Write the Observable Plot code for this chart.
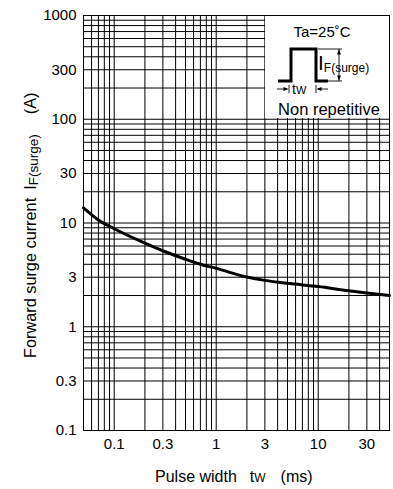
<!DOCTYPE html>
<html><head><meta charset="utf-8">
<script src="https://cdn.jsdelivr.net/npm/d3@7"></script>
<script src="https://cdn.jsdelivr.net/npm/@observablehq/plot@0.6"></script>
<style>
html,body{margin:0;padding:0;background:#fff;}
#chart svg{display:block;}
</style>
</head><body><div id="chart"></div>
<script>
// Data
const pulseWidthMs = [0.05, 0.07, 0.1, 0.2, 0.3, 0.5, 0.7, 1, 2, 3, 5, 10, 20, 30, 50];
const surgeCurrentA = [14, 10.7, 8.8, 6.4, 5.4, 4.47, 4.0, 3.65, 3.02, 2.8, 2.62, 2.44, 2.22, 2.12, 2.0];
const xTickLabels = [0.1, 0.3, 1, 3, 10, 30];
const yTickLabels = [0.1, 0.3, 1, 3, 10, 30, 100, 300, 1000];
const xDomain = [0.05, 50];
const yDomain = [0.1, 1000];

const data = pulseWidthMs.map((x, i) => ({x, y: surgeCurrentA[i]}));
const xGrid = d3.scaleLog().domain(xDomain).ticks();
const yGrid = d3.scaleLog().domain(yDomain).ticks();
const FONT = "'Liberation Sans', Arial, Helvetica, sans-serif";

const plot = Plot.plot({
  width: 393, height: 489,
  marginLeft: 83, marginRight: 4, marginTop: 15, marginBottom: 59,
  style: {fontFamily: FONT, fontSize: "15px", color: "black", background: "white", overflow: "visible"},
  x: {type: "log", domain: xDomain, axis: null},
  y: {type: "log", domain: yDomain, axis: null},
  marks: [
    Plot.gridX(xGrid, {stroke: "black", strokeOpacity: 1, strokeWidth: 1}),
    Plot.gridY(yGrid, {stroke: "black", strokeOpacity: 1, strokeWidth: 1}),
    Plot.text(xTickLabels, {x: d => d, frameAnchor: "bottom", dy: 18, text: d => String(d), fontSize: 15, fill: "black"}),
    Plot.text(yTickLabels, {y: d => d, frameAnchor: "left", dx: -7, textAnchor: "end", text: d => String(d), fontSize: 15, fill: "black"}),
    Plot.line(data, {x: "x", y: "y", stroke: "black", strokeWidth: 3, curve: "monotone-x"}),
    Plot.frame({stroke: "black", strokeWidth: 1})
  ]
});
document.getElementById("chart").appendChild(plot);

(function () {
  const svg = d3.select(plot);
  const sx = plot.scale("x"), sy = plot.scale("y");
  const fRight = sx.apply(xDomain[1]), fTop = sy.apply(yDomain[1]);
  const frameNode = svg.select("[aria-label=frame]").node();

  // Legend box (white panel in upper right of frame)
  const L = 265, T = fTop;
  const g = svg.insert("g", () => frameNode).attr("font-family", FONT).attr("fill", "black").attr("text-anchor", "start");
  g.append("rect").attr("x", L).attr("y", T).attr("width", fRight - L).attr("height", 103).attr("fill", "white");
  g.append("text").attr("x", L + 57).attr("y", T + 22).attr("text-anchor", "middle").attr("font-size", 15).text("Ta=25˚C");
  g.append("path").attr("d", `M${L+13},${T+66} H${L+26} V${T+34} H${L+51} V${T+66} H${L+63}`)
    .attr("fill", "none").attr("stroke", "black").attr("stroke-width", 3).attr("stroke-linejoin", "miter");
  // I_F dimension
  const dx0 = L + 74;
  g.append("path").attr("d", `M${L+53},${T+34} H${L+77} M${L+52},${T+66} H${L+77} M${dx0},${T+34} V${T+66}`)
    .attr("fill", "none").attr("stroke", "black").attr("stroke-width", 0.9);
  g.append("path").attr("d", `M${dx0},${T+34.5} l-2,5 h4 z M${dx0},${T+65.5} l-2,-5 h4 z`).attr("fill", "black");
  const tI = g.append("text").attr("x", L + 53).attr("y", T + 55);
  tI.append("tspan").attr("font-size", 21).text("I");
  tI.append("tspan").attr("font-size", 12).attr("dy", 2).text("F(surge)");
  // t_W dimension
  const ya = T + 74;
  g.append("path").attr("d", `M${L+12},${ya} H${L+22} M${L+24},${ya-4} V${ya+4} M${L+51},${ya-4} V${ya+4} M${L+53},${ya} H${L+63}`)
    .attr("fill", "none").attr("stroke", "black").attr("stroke-width", 0.9);
  g.append("path").attr("d", `M${L+23.5},${ya} l-5,-2 v4 z M${L+51.5},${ya} l5,-2 v4 z`).attr("fill", "black");
  const tW = g.append("text").attr("x", L + 27).attr("y", ya + 5);
  tW.append("tspan").attr("font-size", 14).text("t");
  tW.append("tspan").attr("font-size", 11).text("W");
  g.append("text").attr("x", L + 64).attr("y", T + 100).attr("text-anchor", "middle").attr("font-size", 16.5).text("Non repetitive");

  // Axis titles
  const ax = svg.append("g").attr("font-family", FONT).attr("fill", "black").attr("text-anchor", "start");
  const xl = ax.append("text").attr("x", 155).attr("y", 481.5).attr("font-size", 16);
  xl.append("tspan").text("Pulse width");
  xl.append("tspan").attr("dx", 13).text("t");
  xl.append("tspan").attr("font-size", 12).text("W");
  xl.append("tspan").attr("dx", 15).text("(ms)");

  const yl = ax.append("text").attr("transform", "translate(36,358) rotate(-90)").attr("font-size", 16.3);
  yl.append("tspan").text("Forward surge current");
  yl.append("tspan").attr("dx", 8).text("I");
  yl.append("tspan").attr("font-size", 13.5).attr("dy", 2).text("F(surge)");
  yl.append("tspan").attr("dy", -2).attr("dx", 20).text("(A)");
})();
</script>
</body></html>
